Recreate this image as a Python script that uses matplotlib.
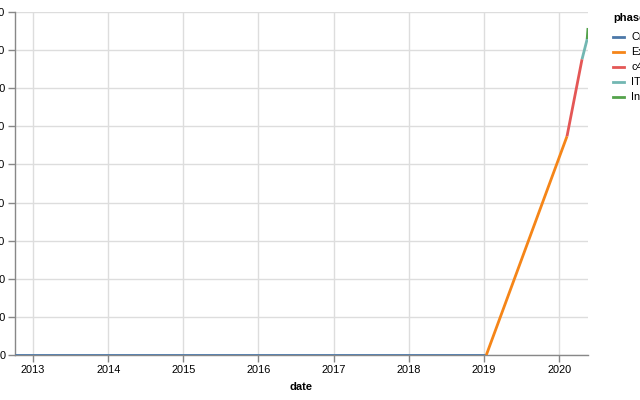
import matplotlib
matplotlib.use("Agg")
import matplotlib.pyplot as plt
from matplotlib.lines import Line2D
import pandas as pd

plt.rcParams['font.family'] = ['Liberation Sans', 'DejaVu Sans']

phases = ["Cruise", "Exponential", "c4", "ITA", "Interim"]
colors = ["#4c78a8", "#f58518", "#e45756", "#72b7b2", "#54a24b"]
dates = {
    "Cruise": ["2012-10-05", "2019-01-12"],
    "Exponential": ["2019-01-12", "2020-02-08"],
    "c4": ["2020-02-08", "2020-04-21"],
    "ITA": ["2020-04-21", "2020-05-16"],
    "Interim": ["2020-05-16", "2020-05-20"],
}
values = {
    "Cruise": [0, 0],
    "Exponential": [0, 574],
    "c4": [574, 776],
    "ITA": [776, 829],
    "Interim": [829, 858],
}
y_ticks = [0, 100, 200, 300, 400, 500, 600, 700, 800, 900]
x_years = [2013, 2014, 2015, 2016, 2017, 2018, 2019, 2020]

W, H = 640, 400
fig = plt.figure(figsize=(6.4, 4.0), dpi=100)
ax = fig.add_axes([15 / W, 1 - 355 / H, (588 - 15) / W, (355 - 12) / H])

for p, c in zip(phases, colors):
    d = pd.to_datetime(dates[p])
    ax.plot(d, values[p], color=c, lw=2, solid_capstyle='butt', zorder=3)

all_d = pd.to_datetime(sum(dates.values(), []))
ax.set_xlim(all_d.min(), all_d.max())
ax.set_ylim(0, 900)
ax.set_yticks(y_ticks)
ax.set_yticklabels([str(v) for v in y_ticks])
ax.set_xticks([pd.Timestamp(f"{y}-01-01") for y in x_years])
ax.set_xticklabels([str(y) for y in x_years])

ax.grid(True, color="#dddddd", lw=1, zorder=0)
ax.set_axisbelow(True)
for s in ["top", "right"]:
    ax.spines[s].set_visible(False)
for s in ["left", "bottom"]:
    ax.spines[s].set_color("#888888")
    ax.spines[s].set_linewidth(1)
ax.tick_params(axis='both', colors="#888888", length=5, width=1,
               labelsize=7.9, labelcolor="black", pad=2)
ax.set_xlabel("date", fontsize=8, fontweight='bold', labelpad=5)

# legend
fig.text(613 / W, 1 - 18 / H, "phase", fontsize=8, fontweight='bold',
         va='center', ha='left')
ys = [37, 52, 67, 82, 97]
for p, c, yy in zip(phases, colors, ys):
    fig.add_artist(Line2D([613 / W, 624 / W], [1 - yy / H, 1 - yy / H],
                          color=c, lw=2, transform=fig.transFigure))
    fig.text(631 / W, 1 - yy / H, p, fontsize=7.9, va='center', ha='left')

fig.savefig("out.png", dpi=100)
